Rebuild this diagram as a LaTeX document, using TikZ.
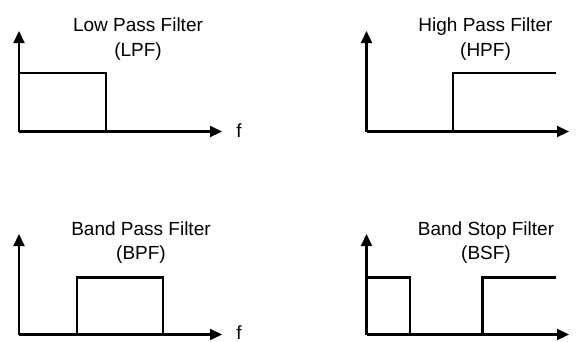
\documentclass[tikz,border=0pt]{standalone}
\usepackage{fontspec}
\setmainfont{Liberation Sans}
\usetikzlibrary{arrows.meta}
\begin{document}
\begin{tikzpicture}[x=1pt,y=-1pt,
  axis/.style={line width=2.2pt,-{Triangle[length=12pt,width=11pt]}},
  resp/.style={line width=2.2pt,line join=miter},
  title/.style={font=\fontsize{19}{23}\selectfont,anchor=base,inner sep=0pt},
  flabel/.style={font=\fontsize{19}{23}\selectfont,anchor=base,inner sep=0pt}]
\useasboundingbox (0,0) rectangle (583,341);
% LPF
\coordinate (o1) at (19,131.5);
\coordinate (y1) at (19,31);
\coordinate (x1) at (222,131.5);
\draw[axis] (o1) -- (y1);
\draw[axis] (o1) -- (x1);
\draw[resp] (19,73) -- (106,73) -- (106,131.5);
\node[flabel] (f1) at (239,137) {f};
\node[title] (t1) at (138,31) {Low Pass Filter};
\node[title] (t1b) at (138,56) {(LPF)};
% HPF
\coordinate (o2) at (366.5,131.5);
\coordinate (y2) at (366.5,31);
\coordinate (x2) at (569,131.5);
\draw[axis] (o2) -- (y2);
\draw[axis] (o2) -- (x2);
\draw[resp] (453,131.5) -- (453,73) -- (556,73);
\node[title] (t2) at (485.5,31) {High Pass Filter};
\node[title] (t2b) at (485.5,56) {(HPF)};
% BPF
\coordinate (o3) at (19,334.5);
\coordinate (y3) at (19,234);
\coordinate (x3) at (222,334.5);
\draw[axis] (o3) -- (y3);
\draw[axis] (o3) -- (x3);
\draw[resp] (77,334.5) -- (77,277.5) -- (163,277.5) -- (163,334.5);
\node[flabel] (f3) at (239,339) {f};
\node[title] (t3) at (141,235) {Band Pass Filter};
\node[title] (t3b) at (141,259.5) {(BPF)};
% BSF
\coordinate (o4) at (366.5,334.5);
\coordinate (y4) at (366.5,234);
\coordinate (x4) at (569,334.5);
\draw[axis] (o4) -- (y4);
\draw[axis] (o4) -- (x4);
\draw[resp] (366.5,277.5) -- (410,277.5) -- (410,334.5);
\draw[resp] (482.5,334.5) -- (482.5,277.5) -- (556,277.5);
\node[title] (t4) at (486,235) {Band Stop Filter};
\node[title] (t4b) at (486,259.5) {(BSF)};
\end{tikzpicture}
\end{document}
